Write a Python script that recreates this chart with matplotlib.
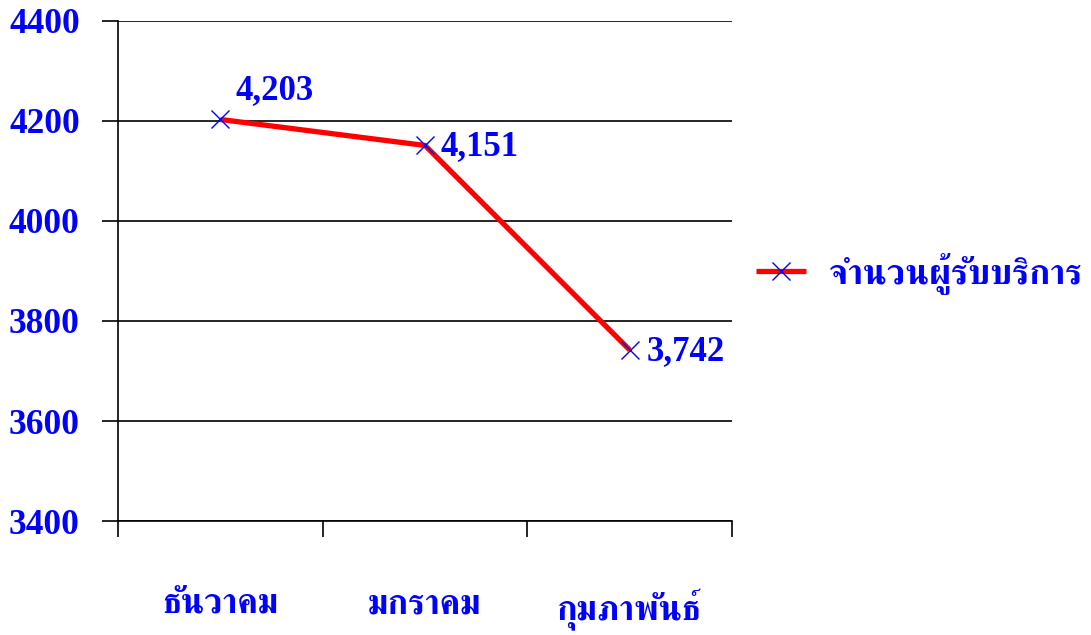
import matplotlib
matplotlib.use("Agg")
import matplotlib.pyplot as plt
import numpy as np

months = ["ธันวาคม", "มกราคม", "กุมภาพันธ์"]
values = [4203, 4151, 3742]
value_labels = ["4,203", "4,151", "3,742"]
series_name = "จำนวนผู้รับบริการ"
yticks = [3400, 3600, 3800, 4000, 4200, 4400]

num_font = ["Liberation Serif", "DejaVu Serif"]
thai_font = ["FreeSerif", "Liberation Serif", "DejaVu Sans"]
blue = "#0000FF"

fig = plt.figure(figsize=(10.91, 6.35), dpi=100)
ax = fig.add_axes([0.1082, 0.1795, 0.5628, 0.7875])

x = np.arange(len(months))
ax.plot(x, values, color="#FF0000", lw=3.8, marker="x", markersize=13,
        markeredgecolor=blue, markeredgewidth=1.0, label=series_name,
        solid_capstyle="butt", zorder=3)

# data labels
offsets = [(11, 9), (11, -1), (12, -1)]
vas = ["bottom", "center", "center"]
for xi, v, t, off, va in zip(x, values, value_labels, offsets, vas):
    ax.annotate(t, (xi, v), xytext=off, textcoords="offset points",
                ha="left", va=va, color=blue, fontsize=25,
                fontweight="bold", family=num_font)

ax.set_xlim(-0.5, 2.5)
ax.set_ylim(3400, 4400)
ax.set_yticks(yticks)
ax.set_yticklabels([str(t) for t in yticks], color=blue, fontsize=25.5,
                   fontweight="bold", family=num_font)
ax.yaxis.grid(True, color="black", lw=1.2)
ax.tick_params(axis="y", length=11.5, width=1.2, color="black", pad=16)

ax.set_xticks(x)
ax.set_xticklabels(months, color=blue, fontsize=25, fontweight="bold",
                   family=thai_font)
ax.set_xticks(np.arange(-0.5, 3, 1.0), minor=True)
ax.tick_params(axis="x", which="major", length=0, pad=49)
ax.tick_params(axis="x", which="minor", length=11.5, width=1.2, color="black")

for s in ["top", "right"]:
    ax.spines[s].set_visible(False)
for s in ["left", "bottom"]:
    ax.spines[s].set_linewidth(1.2)
ax.set_axisbelow(True)

leg = ax.legend(loc="center left", bbox_to_anchor=(0.693, 0.57),
                bbox_transform=fig.transFigure, frameon=False,
                handlelength=1.4, handletextpad=0.65, borderpad=0,
                borderaxespad=0, prop={"family": thai_font, "size": 25.5,
                                       "weight": "bold"})
for t in leg.get_texts():
    t.set_color(blue)

fig.savefig("out.png")
